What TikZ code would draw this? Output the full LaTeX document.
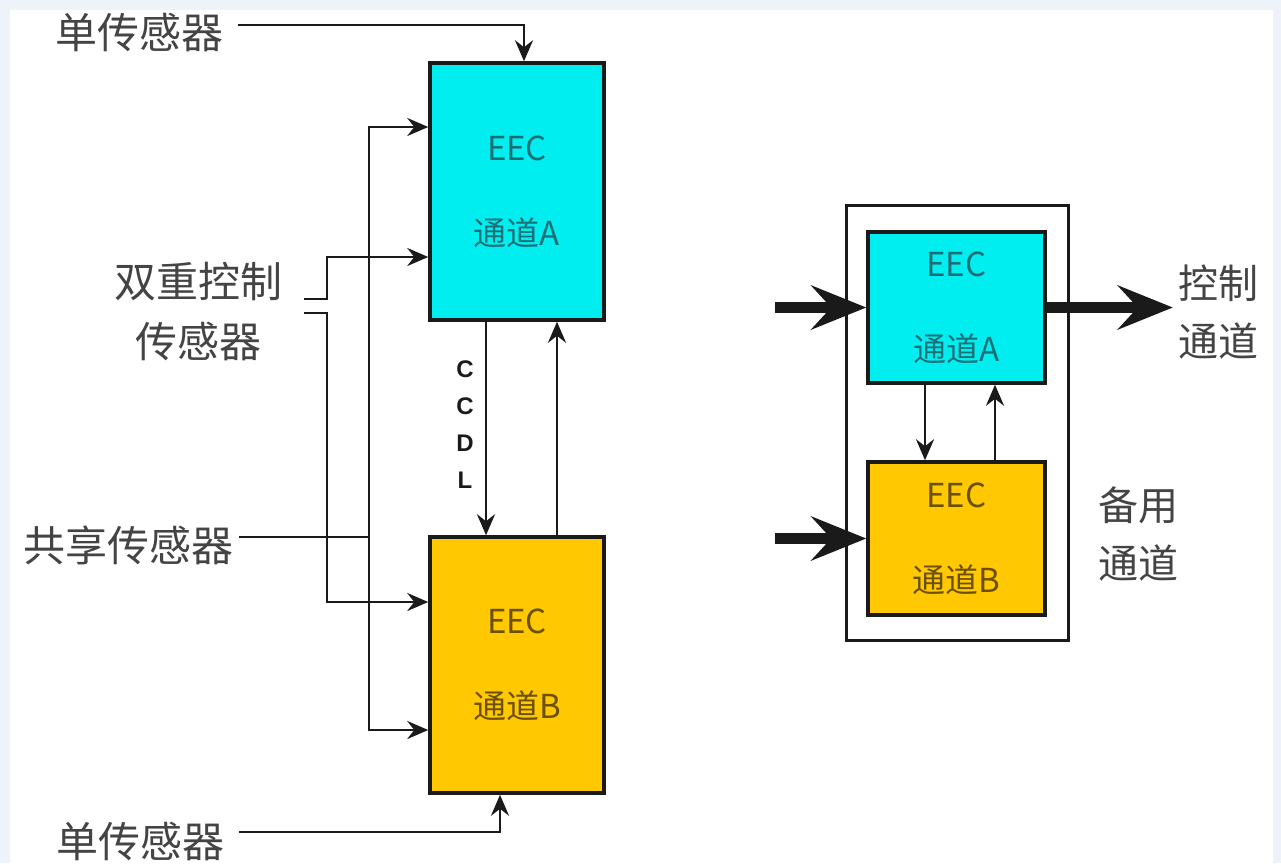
\documentclass[tikz,border=0pt]{standalone}
\usepackage{fontspec}
\setmainfont{Noto Sans CJK SC}
\newfontfamily\ccdlfont{Liberation Sans}
\usetikzlibrary{arrows.meta}
\definecolor{bgc}{HTML}{EDF3F9}
\definecolor{cyanbox}{RGB}{0,238,240}
\definecolor{yelbox}{RGB}{255,200,0}
\definecolor{txtA}{HTML}{1B6F75}
\definecolor{txtB}{HTML}{6A5000}
\definecolor{lbl}{HTML}{444444}
\definecolor{ln}{HTML}{1A1A1A}
\tikzset{
  chbox/.style={draw=ln, line width=3.5pt, align=center, inner sep=0pt,
    font=\fontsize{33}{85}\selectfont},
  boxa/.style={chbox, fill=cyanbox, text=txtA},
  boxb/.style={chbox, fill=yelbox, text=txtB},
  lab/.style={text=lbl, align=center, inner xsep=15pt, inner ysep=0pt,
    font=\fontsize{42}{60}\selectfont},
  rlab/.style={text=lbl, align=center, inner xsep=5pt, inner ysep=0pt,
    font=\fontsize{40}{58}\selectfont},
  arr/.style={draw=ln, line width=2.8pt, -{Stealth[length=21pt,width=18pt,inset=7pt]}},
  plain/.style={draw=ln, line width=2.8pt},
  bigarr/.style={draw=ln, line width=11pt, -{Stealth[length=55pt,width=44pt,inset=20pt]}},
}
\begin{document}
\begin{tikzpicture}[x=1pt,y=-1pt]
\useasboundingbox (0,0) rectangle (1281,863);
\fill[bgc] (0,0) rectangle (1281,863);
\fill[white] (10,10) rectangle (1273,863);

% left diagram
\node[boxa, minimum width=174pt, minimum height=257pt] (A) at (517,191.5) {EEC\\通道A};
\node[boxb, minimum width=174pt, minimum height=256pt] (B) at (517,665) {EEC\\通道B};

\node[lab] (s1) at (139,32) {单传感器};
\node[lab] (s2) at (140,841) {单传感器};
\node[lab] (sh) at (128,545) {共享传感器};
\node[lab] (dual) at (198,312) {双重控制\\传感器};
\node[text=ln, align=center, inner sep=0pt, font=\ccdlfont\bfseries\fontsize{24}{37}\selectfont] (ccdl) at (465,425) {C\\C\\D\\L};

\coordinate (j1) at (369,537);
\coordinate (dA) at (304,299);
\coordinate (dB) at (304,313);

\draw[arr] ([yshift=7pt]s1.east) -| ([xshift=7pt]A.north);
\draw[arr] ([yshift=9pt]s2.east) -| ([xshift=-17pt]B.south);
\draw[plain] ([xshift=-9pt,yshift=8pt]sh.east) -- (j1);
\draw[arr] (j1) |- ([yshift=64.5pt]A.west);
\draw[arr] (j1) |- ([yshift=-65pt]B.west);
\draw[arr] (dA) -- ++(23,0) |- ([yshift=-65.5pt]A.west);
\draw[arr] (dB) -- ++(23,0) |- ([yshift=63pt]B.west);
\draw[arr] ([xshift=-31pt]A.south) -- ([xshift=-31pt]B.north);
\draw[arr] ([xshift=40pt]B.north) -- ([xshift=40pt]A.south);

% right diagram
\node[draw=ln, line width=3pt, minimum width=222pt, minimum height=435pt, inner sep=0pt] (outer) at (957,422.5) {};
\node[boxa, minimum width=177pt, minimum height=151pt] (A2) at (956.5,307.5) {EEC\\通道A};
\node[boxb, minimum width=177pt, minimum height=153pt] (B2) at (956.5,538.5) {EEC\\通道B};
\node[rlab] (ctl) at (1218,312) {控制\\通道};
\node[rlab] (bak) at (1138,534) {备用\\通道};

\coordinate (inA) at (775,307.5);
\coordinate (inB) at (775,538.5);
\draw[bigarr] (inA) -- (A2.west);
\draw[bigarr] (inB) -- (B2.west);
\draw[bigarr] (A2.east) -- (ctl.west |- A2.east);
\draw[arr] ([xshift=-31.5pt]A2.south) -- ([xshift=-31.5pt]B2.north);
\draw[arr] ([xshift=38.5pt]B2.north) -- ([xshift=38.5pt]A2.south);
\end{tikzpicture}
\end{document}
